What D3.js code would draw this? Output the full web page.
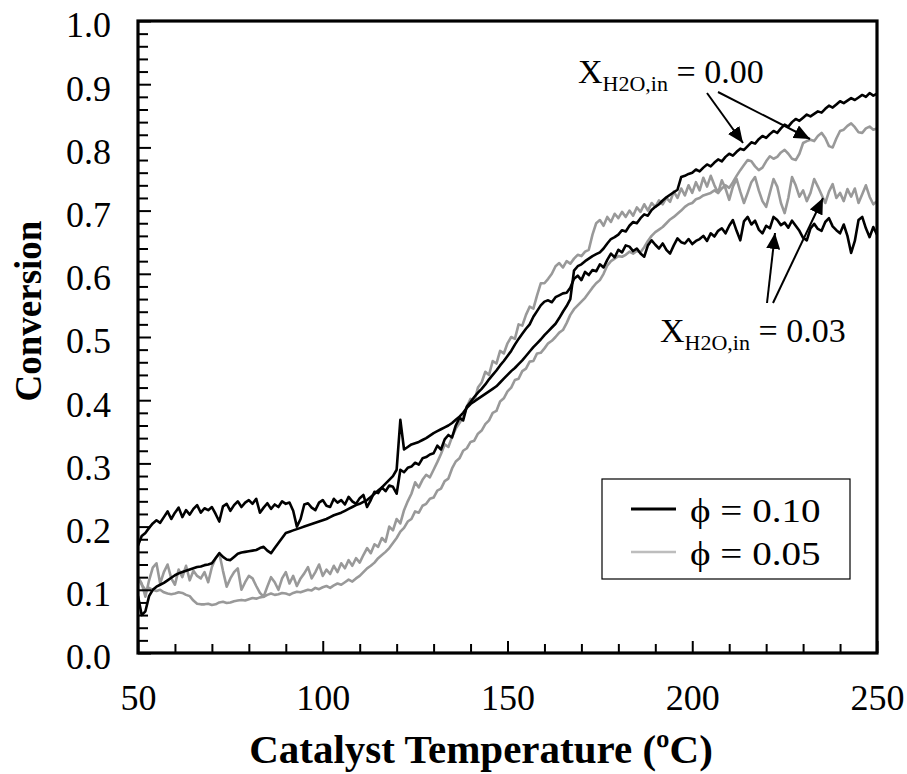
<!DOCTYPE html>
<html>
<head>
<meta charset="utf-8">
<script src="https://cdn.jsdelivr.net/npm/d3@7"></script>
<style>
  body { margin: 0; background: #fff; }
  svg { display: block; }
  text { font-family: "Liberation Serif", "Times New Roman", serif; fill: #000; }
</style>
</head>
<body>
<svg id="chart" width="907" height="774"></svg>
<script>
// Catalyst temperature samples (ºC), one reading per degree
const temperature = d3.range(50, 251, 1);

// Conversion, phi = 0.10, X_H2O,in = 0.00
const phi010_dry = [
  0.090, 0.060, 0.066, 0.090, 0.100, 0.105, 0.108, 0.111, 0.115, 0.119,
  0.123, 0.126, 0.128, 0.130, 0.132, 0.134, 0.136, 0.137, 0.139, 0.140,
  0.142, 0.150, 0.158, 0.152, 0.148, 0.147, 0.152, 0.157, 0.159, 0.160,
  0.161, 0.162, 0.163, 0.166, 0.168, 0.162, 0.158, 0.166, 0.174, 0.182,
  0.190, 0.192, 0.194, 0.196, 0.198, 0.200, 0.202, 0.204, 0.206, 0.208,
  0.210, 0.212, 0.215, 0.218, 0.220, 0.222, 0.225, 0.228, 0.231, 0.234,
  0.236, 0.239, 0.242, 0.247, 0.252, 0.257, 0.262, 0.268, 0.274, 0.280,
  0.290, 0.369, 0.322, 0.326, 0.330, 0.332, 0.334, 0.337, 0.340, 0.344,
  0.348, 0.351, 0.354, 0.357, 0.360, 0.364, 0.369, 0.374, 0.380, 0.388,
  0.394, 0.398, 0.402, 0.406, 0.410, 0.414, 0.418, 0.422, 0.428, 0.434,
  0.440, 0.446, 0.451, 0.457, 0.463, 0.470, 0.477, 0.484, 0.490, 0.496,
  0.503, 0.509, 0.515, 0.521, 0.530, 0.540, 0.549, 0.560, 0.605, 0.612,
  0.615, 0.620, 0.624, 0.628, 0.631, 0.634, 0.640, 0.648, 0.655, 0.658,
  0.662, 0.669, 0.667, 0.676, 0.682, 0.680, 0.688, 0.694, 0.692, 0.701,
  0.706, 0.710, 0.716, 0.721, 0.725, 0.729, 0.733, 0.753, 0.755, 0.758,
  0.760, 0.765, 0.762, 0.768, 0.773, 0.770, 0.776, 0.781, 0.778, 0.785,
  0.790, 0.787, 0.793, 0.798, 0.796, 0.802, 0.808, 0.806, 0.813, 0.818,
  0.815, 0.821, 0.826, 0.823, 0.830, 0.836, 0.833, 0.840, 0.845, 0.842,
  0.847, 0.852, 0.849, 0.853, 0.857, 0.855, 0.861, 0.866, 0.863, 0.868,
  0.873, 0.870, 0.874, 0.878, 0.875, 0.879, 0.883, 0.880, 0.886, 0.882,
  0.885
];

// Conversion, phi = 0.10, X_H2O,in = 0.03
const phi010_wet = [
  0.170, 0.185, 0.190, 0.198, 0.205, 0.210, 0.206, 0.215, 0.224, 0.212,
  0.222, 0.230, 0.215, 0.226, 0.219, 0.228, 0.234, 0.222, 0.229, 0.226,
  0.231, 0.220, 0.208, 0.232, 0.236, 0.225, 0.234, 0.240, 0.231, 0.238,
  0.242, 0.236, 0.244, 0.222, 0.230, 0.237, 0.228, 0.235, 0.231, 0.240,
  0.236, 0.238, 0.225, 0.200, 0.212, 0.235, 0.237, 0.230, 0.226, 0.238,
  0.242, 0.233, 0.231, 0.244, 0.238, 0.242, 0.235, 0.247, 0.240, 0.236,
  0.245, 0.250, 0.231, 0.242, 0.255, 0.253, 0.262, 0.256, 0.265, 0.263,
  0.252, 0.290, 0.286, 0.293, 0.295, 0.301, 0.298, 0.308, 0.310, 0.314,
  0.316, 0.328, 0.322, 0.338, 0.345, 0.341, 0.360, 0.372, 0.368, 0.390,
  0.397, 0.405, 0.412, 0.418, 0.425, 0.433, 0.440, 0.447, 0.455, 0.462,
  0.470, 0.478, 0.488, 0.497, 0.505, 0.513, 0.520, 0.532, 0.541, 0.550,
  0.556, 0.558, 0.555, 0.563, 0.566, 0.569, 0.570, 0.578, 0.592, 0.597,
  0.590, 0.603, 0.598, 0.606, 0.604, 0.615, 0.610, 0.622, 0.632, 0.626,
  0.638, 0.634, 0.645, 0.643, 0.636, 0.640, 0.632, 0.627, 0.645, 0.653,
  0.646, 0.640, 0.648, 0.638, 0.632, 0.645, 0.656, 0.650, 0.648, 0.655,
  0.647, 0.652, 0.655, 0.660, 0.652, 0.664, 0.659, 0.668, 0.672, 0.664,
  0.676, 0.685, 0.668, 0.653, 0.683, 0.690, 0.678, 0.684, 0.670, 0.664,
  0.676, 0.672, 0.690, 0.685, 0.677, 0.681, 0.673, 0.684, 0.676, 0.668,
  0.657, 0.653, 0.672, 0.679, 0.671, 0.668, 0.682, 0.688, 0.675, 0.669,
  0.664, 0.678, 0.660, 0.633, 0.652, 0.685, 0.690, 0.672, 0.658, 0.674,
  0.662
];

// Conversion, phi = 0.05, X_H2O,in = 0.00
const phi005_dry = [
  0.120, 0.108, 0.100, 0.103, 0.100, 0.098, 0.100, 0.096, 0.094, 0.093,
  0.094, 0.096, 0.095, 0.092, 0.090, 0.083, 0.078, 0.077, 0.077, 0.078,
  0.076, 0.077, 0.080, 0.081, 0.079, 0.080, 0.082, 0.083, 0.084, 0.083,
  0.085, 0.087, 0.086, 0.088, 0.089, 0.092, 0.094, 0.092, 0.093, 0.095,
  0.094, 0.092, 0.095, 0.097, 0.096, 0.098, 0.100, 0.099, 0.103, 0.101,
  0.104, 0.106, 0.103, 0.107, 0.110, 0.108, 0.112, 0.116, 0.113, 0.118,
  0.122, 0.128, 0.134, 0.138, 0.143, 0.150, 0.155, 0.160, 0.166, 0.174,
  0.182, 0.192, 0.198, 0.208, 0.212, 0.224, 0.222, 0.233, 0.236, 0.244,
  0.246, 0.257, 0.260, 0.272, 0.276, 0.292, 0.303, 0.308, 0.320, 0.324,
  0.334, 0.336, 0.347, 0.352, 0.362, 0.368, 0.380, 0.383, 0.398, 0.403,
  0.414, 0.420, 0.432, 0.434, 0.446, 0.450, 0.461, 0.462, 0.474, 0.475,
  0.482, 0.490, 0.494, 0.500, 0.507, 0.511, 0.522, 0.535, 0.544, 0.550,
  0.556, 0.562, 0.570, 0.578, 0.585, 0.590, 0.600, 0.613, 0.620, 0.624,
  0.628, 0.627, 0.630, 0.635, 0.632, 0.636, 0.634, 0.642, 0.652, 0.660,
  0.666, 0.670, 0.674, 0.680, 0.686, 0.690, 0.695, 0.700, 0.706, 0.710,
  0.712, 0.718, 0.720, 0.724, 0.726, 0.728, 0.732, 0.728, 0.735, 0.740,
  0.736, 0.745, 0.755, 0.764, 0.772, 0.780, 0.778, 0.770, 0.764, 0.768,
  0.778, 0.786, 0.782, 0.785, 0.792, 0.796, 0.790, 0.782, 0.780, 0.790,
  0.807, 0.810, 0.812, 0.810, 0.818, 0.823, 0.815, 0.802, 0.800, 0.814,
  0.826, 0.828, 0.834, 0.838, 0.832, 0.824, 0.823, 0.830, 0.833, 0.828,
  0.830
];

// Conversion, phi = 0.05, X_H2O,in = 0.03
const phi005_wet = [
  0.120, 0.110, 0.089, 0.115, 0.135, 0.142, 0.110, 0.128, 0.140, 0.118,
  0.108, 0.132, 0.120, 0.138, 0.115, 0.130, 0.122, 0.118, 0.128, 0.112,
  0.136, 0.150, 0.158, 0.130, 0.105, 0.118, 0.128, 0.134, 0.100, 0.112,
  0.122, 0.118, 0.106, 0.095, 0.089, 0.105, 0.120, 0.112, 0.100, 0.118,
  0.128, 0.110, 0.122, 0.106, 0.118, 0.126, 0.136, 0.118, 0.128, 0.140,
  0.122, 0.132, 0.125, 0.138, 0.128, 0.142, 0.134, 0.147, 0.138, 0.150,
  0.143, 0.155, 0.166, 0.158, 0.172, 0.168, 0.182, 0.176, 0.200, 0.194,
  0.212, 0.205, 0.226, 0.240, 0.252, 0.270, 0.262, 0.274, 0.282, 0.278,
  0.290, 0.302, 0.315, 0.330, 0.326, 0.342, 0.355, 0.364, 0.373, 0.390,
  0.402, 0.398, 0.420, 0.428, 0.445, 0.440, 0.462, 0.458, 0.478, 0.474,
  0.490, 0.500, 0.497, 0.520, 0.518, 0.535, 0.548, 0.545, 0.566, 0.585,
  0.585, 0.592, 0.600, 0.612, 0.617, 0.610, 0.620, 0.616, 0.624, 0.630,
  0.628, 0.635, 0.638, 0.662, 0.680, 0.685, 0.676, 0.690, 0.682, 0.695,
  0.688, 0.698, 0.690, 0.700, 0.692, 0.705, 0.698, 0.710, 0.700, 0.712,
  0.706, 0.716, 0.710, 0.720, 0.714, 0.730, 0.720, 0.735, 0.724, 0.740,
  0.728, 0.745, 0.732, 0.752, 0.738, 0.755, 0.740, 0.728, 0.748, 0.735,
  0.717, 0.738, 0.750, 0.730, 0.712, 0.728, 0.745, 0.753, 0.732, 0.715,
  0.706, 0.728, 0.750, 0.738, 0.712, 0.696, 0.720, 0.753, 0.740, 0.722,
  0.732, 0.715, 0.728, 0.750, 0.738, 0.725, 0.712, 0.730, 0.742, 0.720,
  0.728, 0.715, 0.734, 0.722, 0.735, 0.712, 0.726, 0.740, 0.722, 0.710,
  0.715
];

// Axis ticks
const xMajorTicks = [50, 100, 150, 200, 250];
const xMinorTicks = d3.range(60, 250, 10).filter(t => t % 50 !== 0);
const yMajorTicks = [0.0, 0.1, 0.2, 0.3, 0.4, 0.5, 0.6, 0.7, 0.8, 0.9, 1.0];
const yMinorTicks = d3.range(1, 50).map(i => i / 50).filter((v, i) => (i + 1) % 5 !== 0);

// Legend entries
const legendLabels = ["\u03D5 = 0.10", "\u03D5 = 0.05"];

const colorBlack = "#000000";
const colorGray = "#999999";

const series = [
  { values: phi005_dry, color: colorGray },
  { values: phi005_wet, color: colorGray },
  { values: phi010_dry, color: colorBlack },
  { values: phi010_wet, color: colorBlack }
];

const svg = d3.select("#chart");
const plot = { left: 138, right: 877, top: 21, bottom: 653 };

const x = d3.scaleLinear().domain([50, 250]).range([plot.left, plot.right]);
const y = d3.scaleLinear().domain([0, 1]).range([plot.bottom, plot.top]);

svg.append("defs").append("clipPath").attr("id", "plotClip")
  .append("rect")
  .attr("x", plot.left).attr("y", plot.top)
  .attr("width", plot.right - plot.left).attr("height", plot.bottom - plot.top);

// Data curves
const line = d3.line()
  .x((d, i) => x(temperature[i]))
  .y(d => y(d));

svg.append("g").attr("clip-path", "url(#plotClip)")
  .selectAll("path")
  .data(series)
  .join("path")
  .attr("d", s => line(s.values))
  .attr("fill", "none")
  .attr("stroke", s => s.color)
  .attr("stroke-width", 2.6)
  .attr("stroke-linejoin", "round");

// Axes: inward ticks, minor and major
function styleAxis(g) {
  g.select(".domain").remove();
  g.selectAll(".tick line").attr("stroke", "#000").attr("stroke-width", 2);
  g.selectAll("text").style("font-size", "36px").attr("fill", "#000");
}

svg.append("g")
  .attr("transform", `translate(${plot.left},0)`)
  .call(d3.axisLeft(y).tickValues(yMinorTicks).tickSize(-10).tickFormat(""))
  .call(styleAxis);

svg.append("g")
  .attr("transform", `translate(${plot.left},0)`)
  .call(d3.axisLeft(y).tickValues(yMajorTicks).tickSize(-13).tickPadding(27).tickFormat(d3.format(".1f")))
  .call(styleAxis)
  .call(g => g.selectAll("text").attr("dy", "0.44em"));

svg.append("g")
  .attr("transform", `translate(0,${plot.bottom})`)
  .call(d3.axisBottom(x).tickValues(xMinorTicks).tickSize(-9).tickFormat(""))
  .call(styleAxis);

svg.append("g")
  .attr("transform", `translate(0,${plot.bottom})`)
  .call(d3.axisBottom(x).tickValues(xMajorTicks).tickSize(-12).tickPadding(31).tickFormat(d3.format("d")))
  .call(styleAxis);

// Plot frame
svg.append("rect")
  .attr("x", plot.left).attr("y", plot.top)
  .attr("width", plot.right - plot.left).attr("height", plot.bottom - plot.top)
  .attr("fill", "none").attr("stroke", "#000").attr("stroke-width", 3.2);

// Axis titles
svg.append("text")
  .attr("transform", "rotate(-90)")
  .attr("x", -311).attr("y", 41)
  .attr("text-anchor", "middle")
  .style("font-size", "37px").style("font-weight", "bold")
  .text("Conversion");

svg.append("text")
  .attr("x", 481).attr("y", 763)
  .attr("text-anchor", "middle")
  .style("font-size", "41px").style("font-weight", "bold")
  .text("Catalyst Temperature (\u00BAC)");

// Legend
const legend = svg.append("g");
legend.append("rect")
  .attr("x", 602).attr("y", 479).attr("width", 248).attr("height", 100)
  .attr("fill", "#fff").attr("stroke", "#000").attr("stroke-width", 1.2);
const legendColors = [colorBlack, "#bdbdbd"];
const legendWidths = [3, 2.5];
legendLabels.forEach((label, i) => {
  const cy = 509 + i * 43;
  legend.append("line")
    .attr("x1", 631).attr("x2", 676).attr("y1", cy).attr("y2", cy)
    .attr("stroke", legendColors[i]).attr("stroke-width", legendWidths[i]);
  legend.append("text")
    .attr("transform", `translate(690,${cy + 13}) scale(1.15,1)`)
    .style("font-size", "34px")
    .text(label);
});

// Annotations with arrows
const defs = svg.select("defs");
defs.append("marker")
  .attr("id", "arrowHead")
  .attr("markerUnits", "userSpaceOnUse")
  .attr("viewBox", "0 0 16 14")
  .attr("refX", 16).attr("refY", 7)
  .attr("markerWidth", 16).attr("markerHeight", 14)
  .attr("orient", "auto")
  .append("path").attr("d", "M0,0 L16,7 L0,14 Z").attr("fill", "#000");

function annotation(xPos, yPos, value) {
  const t = svg.append("text").attr("x", xPos).attr("y", yPos).style("font-size", "34px");
  t.append("tspan").text("X");
  t.append("tspan").attr("dy", 8).style("font-size", "22px").text("H2O,in");
  t.append("tspan").attr("dy", -8).text(" = " + value);
}

annotation(578, 83, "0.00");
annotation(660, 342, "0.03");

const arrows = [
  { from: [707, 93], to: [743, 143] },
  { from: [718, 92], to: [810, 139] },
  { from: [767, 303], to: [775, 233] },
  { from: [773, 303], to: [823, 198] }
];
svg.append("g").selectAll("line")
  .data(arrows)
  .join("line")
  .attr("x1", d => d.from[0]).attr("y1", d => d.from[1])
  .attr("x2", d => d.to[0]).attr("y2", d => d.to[1])
  .attr("stroke", "#000").attr("stroke-width", 2)
  .attr("marker-end", "url(#arrowHead)");
</script>
</body>
</html>
